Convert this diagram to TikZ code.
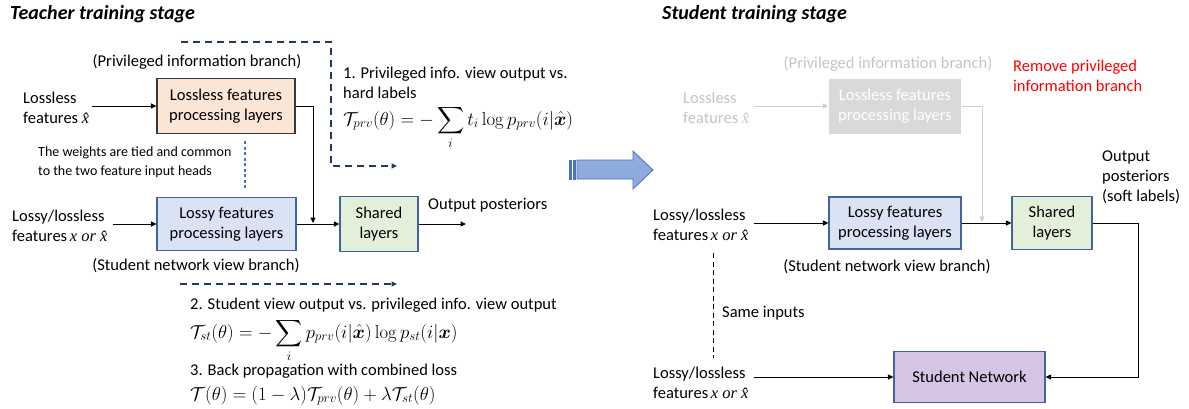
\documentclass[tikz,border=0pt]{standalone}
\usepackage[no-math]{fontspec}
\setmainfont{Carlito}
\newfontfamily\tnr{Liberation Serif}
\usepackage{amsmath,bm,graphicx}
\usetikzlibrary{arrows.meta}
\definecolor{peach}{HTML}{FBE5D6}
\definecolor{lblue}{HTML}{DAE3F3}
\definecolor{lgreen}{HTML}{E2F0D9}
\definecolor{lpurple}{HTML}{D5C4E4}
\definecolor{bord}{HTML}{41649E}
\definecolor{dgray}{HTML}{3A3A3A}
\definecolor{navy}{HTML}{1F3864}
\definecolor{gtext}{HTML}{C4C4C4}
\definecolor{gline}{HTML}{D0D0D0}
\definecolor{gfill}{HTML}{D9D9D9}
\definecolor{arrfill}{HTML}{8FAADC}
\definecolor{arrbord}{HTML}{4A72BE}
\definecolor{tieblue}{HTML}{4472C4}
\newcommand{\xorx}{{\tnr\itshape x or x̂}}
\newcommand{\xh}{{\tnr\itshape x̂}}
\newcommand{\fml}[1]{\scalebox{0.905}{#1}}
\tikzset{
  basefont/.style={font=\fontsize{16.5}{20}\selectfont},
  lbl/.style={basefont, align=left, inner sep=0pt},
  smalltxt/.style={font=\fontsize{14}{19}\selectfont, align=left, inner sep=0pt},
  titletxt/.style={font=\fontsize{20}{24}\selectfont\bfseries\itshape, inner sep=0pt},
  mth/.style={font=\fontsize{20}{24}\selectfont, inner sep=0pt},
  box/.style={basefont, align=center, inner sep=0pt, line width=1.1pt},
  arr/.style={-{Triangle[length=5.5pt,width=5pt]}, line width=1pt},
  navyarr/.style={-{Triangle[length=5.5pt,width=5pt]}, line width=1.3pt, navy, dash pattern=on 7pt off 5pt},
  tie/.style={tieblue, line width=1.2pt, dash pattern=on 3pt off 2.5pt},
  blackdash/.style={black, line width=0.9pt, dash pattern=on 5pt off 3.5pt},
}
\begin{document}
\begin{tikzpicture}[x=1pt,y=-1pt]
\useasboundingbox (0,0) rectangle (1189,408);
% ---------------- Teacher stage ----------------
\node[titletxt, anchor=west] (t1) at (10,14) {Teacher training stage};
\node[lbl] (pib) at (197,62) {(Privileged information branch)};
\node[box, fill=peach, draw=dgray, minimum width=138pt, minimum height=55pt] (llb) at (226,106) {Lossless features\\processing layers};
\node[lbl, anchor=west] (lli) at (23,108) {Lossless\\features \xh};
\draw[arr, shorten <=3pt] (lli.east |- llb.west) -- (llb.west);
\node[box, fill=lblue, draw=bord, minimum width=139pt, minimum height=53pt] (lyb) at (226.5,224) {Lossy features\\processing layers};
\node[lbl, anchor=west] (lyi) at (12,226) {Lossy/lossless\\features\,\xorx};
\draw[arr, shorten <=5pt] (lyi.east |- lyb.west) -- (lyb.west);
\node[box, fill=lgreen, draw=bord, minimum width=78pt, minimum height=55pt] (shb) at (379,224) {Shared\\layers};
\draw[arr] (lyb.east) -- (shb.west);
\coordinate (jn) at (313,223);
\draw[arr] (llb.east) -| (jn);
\node[lbl, anchor=west] (outp) at (428,205) {Output posteriors};
\coordinate (outend) at (466,224);
\draw[arr] (shb.east) -- (outend);
\node[lbl] (snv) at (196,266) {(Student network view branch)};
\node[smalltxt, anchor=west] (wt) at (38,162) {The weights are tied and common\\to the two feature input heads};
\coordinate (tiex) at (245,0);
\draw[tie, shorten <=7pt, shorten >=7pt] (llb.south -| tiex) -- (lyb.north -| tiex);
% dashed navy arrows
\coordinate (d1a) at (181,42);
\coordinate (d1b) at (331,42);
\coordinate (d1c) at (397,166);
\draw[navyarr] (d1a) -- (d1b) |- (d1c);
\coordinate (d2a) at (180,284);
\coordinate (d2b) at (397,284);
\draw[navyarr] (d2a) -- (d2b);
% loss texts
\node[lbl, anchor=west] (s1) at (343,83) {1. Privileged info. view output vs.\\hard labels};
\node[mth, anchor=base west] (f1) at (343,125) {\fml{$\displaystyle \mathcal{T}_{prv}(\theta) = -\sum_i t_i \log p_{prv}(i|\hat{\bm{x}})$}};
\node[lbl, anchor=west] (s2) at (190,305) {2. Student view output vs. privileged info. view output};
\node[mth, anchor=base west] (f2) at (190,338) {\fml{$\displaystyle \mathcal{T}_{st}(\theta) = -\sum_i p_{prv}(i|\hat{\bm{x}}) \log p_{st}(i|\bm{x})$}};
\node[lbl, anchor=west] (s3) at (190,371) {3. Back propagation with combined loss};
\node[mth, anchor=base west] (f3) at (190,400) {\fml{$\mathcal{T}(\theta) = (1-\lambda)\mathcal{T}_{prv}(\theta) + \lambda\mathcal{T}_{st}(\theta)$}};
% block arrow
\filldraw[fill=arrfill, draw=arrbord, line width=0.8pt] (577,160) -- (633,160) -- (633,151) -- (653,170) -- (633,189) -- (633,179) -- (577,179) -- cycle;
\filldraw[fill=arrbord, draw=arrbord, line width=0.6pt] (569,160) rectangle (571.5,179);
\filldraw[fill=arrbord, draw=arrbord, line width=0.6pt] (573,160) rectangle (575.5,179);
% ---------------- Student stage ----------------
\node[titletxt, anchor=west] (t2) at (662,14) {Student training stage};
\node[lbl, text=gtext] (pib2) at (888,64) {(Privileged information branch)};
\node[lbl, anchor=west, text=gtext] (lli2) at (683,108) {Lossless\\features \xh};
\node[box, fill=gfill, draw=none, text=white, minimum width=132pt, minimum height=55pt] (llb2) at (895,106) {Lossless features\\processing layers};
\draw[arr, gline, shorten <=5pt] (lli2.east |- llb2.west) -- (llb2.west);
\coordinate (jn2) at (982,222);
\draw[arr, gline] (llb2.east) -| (jn2);
\node[lbl, anchor=west, text=red] (rm) at (1013,75.5) {Remove privileged\\information branch};
\node[lbl, anchor=west] (lyi2) at (653,225) {Lossy/lossless\\features\,\xorx};
\node[box, fill=lblue, draw=bord, minimum width=132pt, minimum height=52pt] (lyb2) at (895,223) {Lossy features\\processing layers};
\draw[arr, shorten <=5pt] (lyi2.east |- lyb2.west) -- (lyb2.west);
\node[box, fill=lgreen, draw=bord, minimum width=80pt, minimum height=53pt] (shb2) at (1052,223) {Shared\\layers};
\draw[arr] (lyb2.east) -- (shb2.west);
\node[lbl, anchor=west] (outp2) at (1102,177) {Output\\posteriors\\(soft labels)};
\node[lbl] (snv2) at (887,267) {(Student network view branch)};
\node[lbl, anchor=west] (lyi3) at (653,383) {Lossy/lossless\\features\,\xorx};
\node[box, fill=lpurple, draw=bord, minimum width=151pt, minimum height=51pt] (snb) at (969.5,377) {Student Network};
\draw[arr, shorten <=5pt] (lyi3.east |- snb.west) -- (snb.west);
\coordinate (rt) at (1138,377);
\draw[arr] (shb2.east) -| (rt) -- (snb.east);
\coordinate (dx) at (713,0);
\draw[blackdash, shorten <=12pt, shorten >=9pt] (lyi2.south -| dx) -- (lyi3.north -| dx);
\node[lbl, anchor=west] (same) at (722,313) {Same inputs};
\end{tikzpicture}
\end{document}
